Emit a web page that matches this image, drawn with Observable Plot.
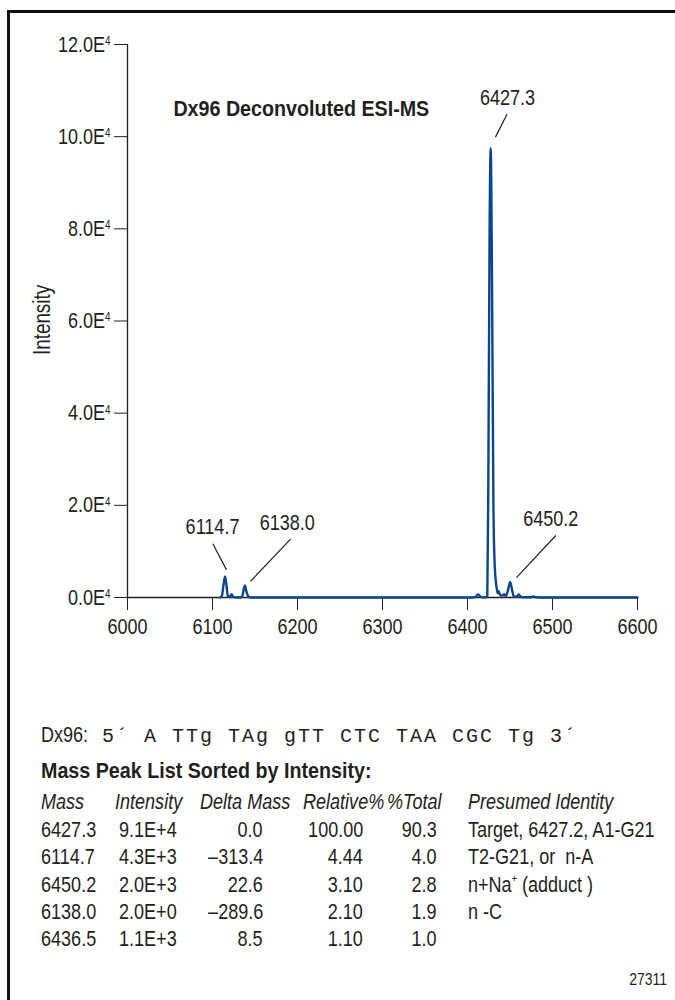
<!DOCTYPE html>
<html>
<head>
<meta charset="utf-8">
<script src="https://cdn.jsdelivr.net/npm/d3@7"></script>
<script src="https://cdn.jsdelivr.net/npm/@observablehq/plot@0.6"></script>
<style>
  html, body { margin: 0; padding: 0; background: #fff; }
  body { width: 675px; height: 1000px; position: relative; overflow: hidden;
         font-family: 'Liberation Sans', Arial, sans-serif; color: #231f20; }
  #frame { position: absolute; left: 7px; top: 10px; width: 700px; height: 1000px;
           border-left: 3px solid #111; border-top: 3px solid #111; }
  #chart { position: absolute; left: 0; top: 0; }
  .t { position: absolute; white-space: nowrap; line-height: 1; }
  .t > span { display: inline-block; }
  .mono { font-family: 'Liberation Mono', 'DejaVu Sans Mono', monospace; }
  sup { font-size: 0.5em; vertical-align: 0.9em; line-height: 0; }
</style>
</head>
<body>
<div id="frame"></div>
<div id="chart"></div>
<div id="below"></div>
<script>
// ---- axis ticks ----
const xTicks = [6000, 6100, 6200, 6300, 6400, 6500, 6600];
const yTicks = [0, 20000, 40000, 60000, 80000, 100000, 120000];

// ---- spectrum ----
const specMass = [6109, 6111, 6113, 6114.7, 6116.5, 6118, 6120, 6122.5, 6124.5, 6128,
                  6133, 6135, 6138, 6140.5, 6143, 6146, 6250, 6405, 6409, 6412.5,
                  6416, 6420, 6423.3, 6424.5, 6426, 6427.3, 6428.8, 6430.5, 6432, 6434,
                  6435.5, 6436.5, 6437.5, 6439, 6441, 6443, 6445, 6447.5, 6450.2, 6452.5,
                  6454.5, 6457, 6460.4, 6463, 6467, 6474, 6477.6, 6481, 6486, 6600];
const specInt  = [0, 300, 2800, 4550, 2600, 300, 120, 700, 120, 0,
                  0, 300, 2600, 900, 100, 0, 0, 0, 80, 650,
                  80, 0, 300, 25000, 80000, 97500, 70000, 20000, 7000, 2500,
                  900, 1400, 900, 500, 400, 700, 300, 1500, 3400, 1600,
                  200, 150, 650, 100, 50, 60, 250, 40, 0, 0];

// ---- peak annotations ----
const peakLabels = ["6427.3", "6114.7", "6138.0", "6450.2"];
const labelMass  = [6447, 6100, 6188, 6498];
const labelInt   = [108300, 15250, 16100, 17100];
const leadMass1  = [6446.6, 6100.4, 6191.8, 6503.9];
const leadInt1   = [104900, 11650, 12650, 13450];
const leadMass2  = [6432.9, 6116.5, 6144.7, 6457.6];
const leadInt2   = [99900, 6000, 3500, 4300];

const chartTitle = "Dx96 Deconvoluted ESI-MS";
const titleMass = 6054, titleInt = 106100;

// ---- peak table ----
const tMass      = ["6427.3", "6114.7", "6450.2", "6138.0", "6436.5"];
const tIntensity = ["9.1E+4", "4.3E+3", "2.0E+3", "2.0E+0", "1.1E+3"];
const tDelta     = ["0.0", "\u2013313.4", "22.6", "\u2013289.6", "8.5"];
const tRelative  = ["100.00", "4.44", "3.10", "2.10", "1.10"];
const tTotal     = ["90.3", "4.0", "2.8", "1.9", "1.0"];
const tIdentity  = ["Target, 6427.2, A1-G21", "T2-G21, or\u00a0 n-A", "n+Na<sup>+</sup> (adduct )", "n -C", ""];
const tHeaders   = ["Mass", "Intensity", "Delta Mass", "Relative%", "%Total", "Presumed Identity"];

const FONT = "'Liberation Sans', Arial, sans-serif";
const INK = "#231f20";
const BLUE = "#0a468c";
const NARROW = 0.82, NARROW_BOLD = 0.895;

const spectrum = specMass.map((m, i) => ({mass: m, intensity: specInt[i]}));
const ann = peakLabels.map((l, i) => ({label: l, x: labelMass[i], y: labelInt[i],
  x1: leadMass1[i], y1: leadInt1[i], x2: leadMass2[i], y2: leadInt2[i]}));

const plot = Plot.plot({
  width: 675, height: 645,
  marginLeft: 127, marginRight: 38, marginTop: 44, marginBottom: 48,
  style: {fontFamily: FONT, fontSize: "22px", color: INK, background: "transparent", overflow: "visible"},
  x: {domain: [6000, 6600], ticks: xTicks, tickSize: 13, tickPadding: 8, label: null, tickFormat: d => String(d)},
  y: {domain: [0, 120000], ticks: yTicks, tickSize: 13, tickPadding: 4, label: null,
      tickFormat: d => (d / 10000).toFixed(1) + "E4"},
  marks: [
    Plot.ruleX([6000], {stroke: INK, strokeWidth: 1.3}),
    Plot.ruleY([0], {stroke: INK, strokeWidth: 1.3}),
    Plot.line(spectrum, {x: "mass", y: "intensity", stroke: BLUE, strokeWidth: 2.4, curve: "monotone-x"}),
    Plot.link(ann, {x1: "x1", y1: "y1", x2: "x2", y2: "y2", stroke: INK, strokeWidth: 1.2}),
    Plot.text(ann, {x: "x", y: "y", text: "label", fontSize: 22, fill: INK}),
    Plot.text([chartTitle], {x: () => titleMass, y: () => titleInt, text: d => d, textAnchor: "start",
      fontSize: 22, fontWeight: "bold", fill: INK})
  ]
});
document.getElementById("chart").appendChild(plot);

const svg = d3.select(plot);
// superscript exponent on y tick labels
svg.selectAll("text").each(function () {
  const s = this.textContent;
  const m = /^(\d+\.\dE)(4)$/.exec(s);
  if (m && this.childElementCount === 0) {
    const t = d3.select(this);
    t.text(null);
    t.append("tspan").text(m[1]);
    t.append("tspan").attr("font-size", "12px").attr("dy", "-0.55em").text(m[2]);
  }
});
// y axis title
svg.append("text")
  .attr("transform", "translate(42,320) rotate(-90)")
  .attr("text-anchor", "middle").attr("dy", "0.35em")
  .attr("font-size", 23).attr("fill", INK)
  .text("Intensity");

// condense all chart texts horizontally about their anchor (narrow grotesque look)
svg.selectAll("text").each(function () {
  const cs = getComputedStyle(this);
  const bold = cs.fontWeight === "bold" || +cs.fontWeight >= 600;
  const s = bold ? NARROW_BOLD : NARROW;
  const bb = this.getBBox();
  if (!(bb.width > 0)) return;
  const anchor = cs.textAnchor;
  const rotated = (this.getAttribute("transform") || "").includes("rotate");
  if (rotated) {
    // rotated text: condense along its own baseline (local x axis)
    const ax = bb.x + bb.width / 2;
    this.setAttribute("transform", this.getAttribute("transform") + ` translate(${ax},0) scale(${s},1) translate(${-ax},0)`);
    return;
  }
  const ax = anchor === "end" ? bb.x + bb.width : anchor === "middle" ? bb.x + bb.width / 2 : bb.x;
  const prev = this.getAttribute("transform") || "";
  this.setAttribute("transform", `${prev} translate(${ax},0) scale(${s},1) translate(${-ax},0)`.trim());
});

// ---- text below the chart ----
const below = document.getElementById("below");
function put(html, x, cy, fs, opts = {}) {
  const el = document.createElement("div");
  el.className = "t" + (opts.cls ? " " + opts.cls : "");
  const inner = document.createElement("span");
  inner.innerHTML = html;
  el.appendChild(inner);
  el.style.fontSize = fs + "px";
  el.style.top = (cy - fs * 0.49) + "px";
  const sx = opts.scale != null ? opts.scale : (opts.bold ? NARROW_BOLD : NARROW);
  inner.style.transform = "scaleX(" + sx + ")";
  if (opts.right) { el.style.right = (675 - x) + "px"; inner.style.transformOrigin = "right center"; }
  else { el.style.left = x + "px"; inner.style.transformOrigin = "left center"; }
  if (opts.bold) el.style.fontWeight = "bold";
  if (opts.italic) el.style.fontStyle = "italic";
  if (opts.ls) el.style.letterSpacing = opts.ls + "px";
  below.appendChild(el);
}
put("Dx96:", 41, 735, 22);
put("5\u00b4 A TTg TAg gTT CTC TAA CGC Tg 3\u00b4", 102, 737, 20, {cls: "mono", ls: 2, scale: 1});
put("Mass Peak List Sorted by Intensity:", 41, 771, 22, {bold: true});
const hx = [41, 115, 200, 303, 387, 468];
tHeaders.forEach((h, i) => put(h, hx[i], 802, 22, {italic: true}));
const rowY = [830, 857, 885, 912, 939];
tMass.forEach((m, i) => {
  const y = rowY[i];
  put(m, 41, y, 22);
  put(tIntensity[i], 119, y, 22);
  put(tDelta[i], 263, y, 22, {right: true});
  put(tRelative[i], 363, y, 22, {right: true});
  put(tTotal[i], 437, y, 22, {right: true});
  if (tIdentity[i]) put(tIdentity[i], 468, y, 22);
});
put("27311", 667, 979, 17, {right: true});
</script>
</body>
</html>
